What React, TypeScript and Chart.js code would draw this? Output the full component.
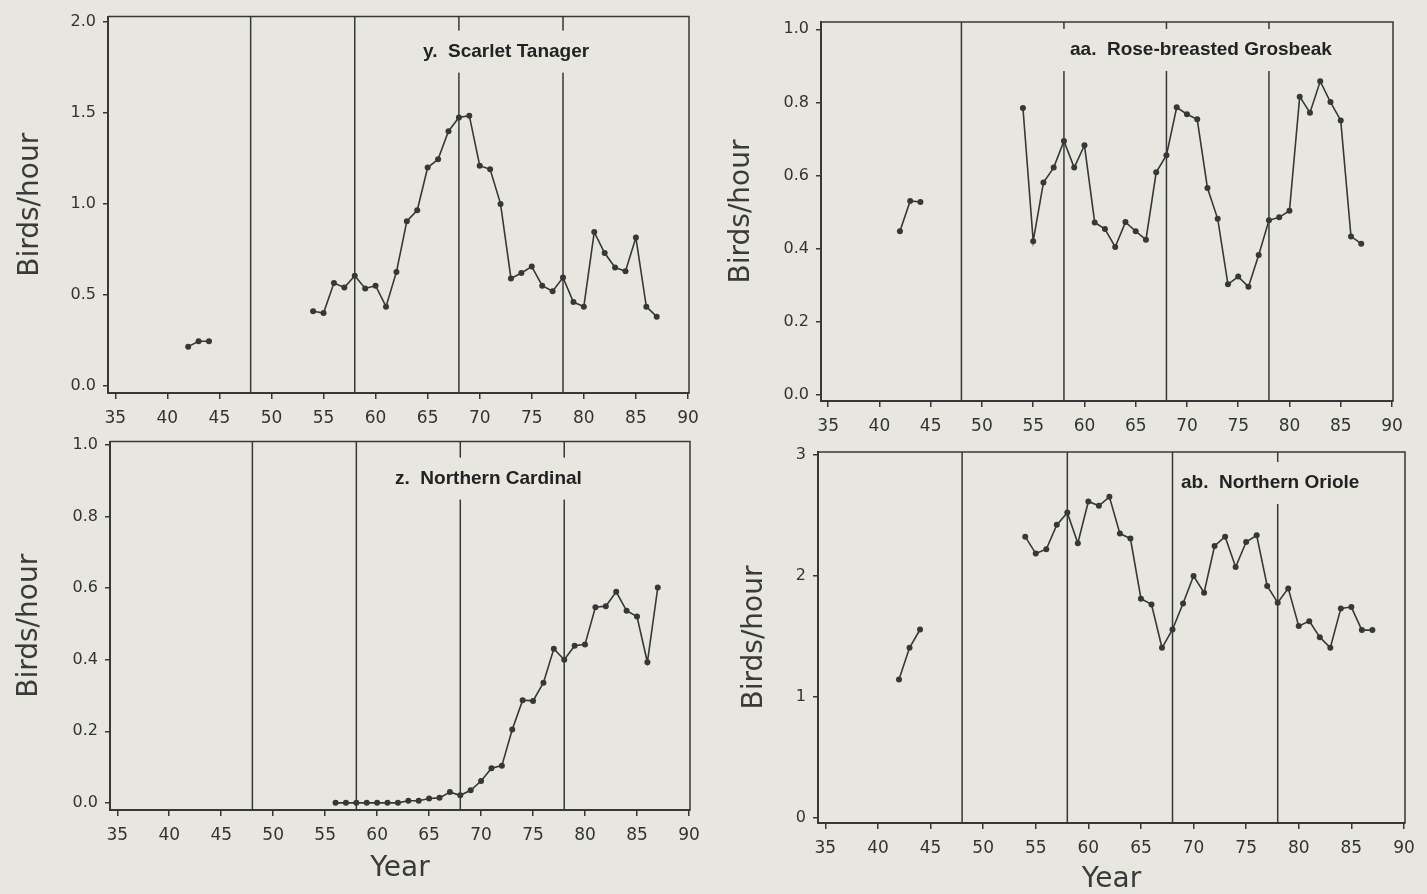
import React, { useEffect, useRef } from "react";
import { Chart, registerables } from "chart.js";

Chart.register(...registerables);

// ---------------- data ----------------
const YEARS = [
  42, 43, 44, 45, 46, 47, 48, 49, 50, 51, 52, 53, 54, 55, 56, 57, 58, 59, 60, 61, 62, 63, 64,
  65, 66, 67, 68, 69, 70, 71, 72, 73, 74, 75, 76, 77, 78, 79, 80, 81, 82, 83, 84, 85, 86, 87,
];

const SCARLET_TANAGER = [
  0.215, 0.245, 0.245, null, null, null, null, null, null, null, null, null,
  0.41, 0.4, 0.565, 0.54, 0.605, 0.535, 0.55, 0.435, 0.625, 0.905, 0.965,
  1.2, 1.245, 1.4, 1.475, 1.485, 1.21, 1.19, 1.0, 0.59, 0.62, 0.655, 0.55, 0.52,
  0.595, 0.46, 0.435, 0.845, 0.73, 0.65, 0.63, 0.815, 0.435, 0.38,
];

const ROSE_BREASTED_GROSBEAK = [
  0.448, 0.531, 0.528, null, null, null, null, null, null, null, null, null,
  0.785, 0.421, 0.581, 0.622, 0.695, 0.622, 0.683, 0.472, 0.454, 0.405, 0.473,
  0.448, 0.425, 0.609, 0.656, 0.787, 0.768, 0.754, 0.566, 0.482, 0.303, 0.324, 0.296, 0.383,
  0.478, 0.486, 0.504, 0.816, 0.772, 0.858, 0.801, 0.751, 0.434, 0.414,
];

const NORTHERN_CARDINAL = [
  null, null, null, null, null, null, null, null, null, null, null, null,
  null, null, 0.0, 0.0, 0.0, 0.0, 0.0, 0.0, 0.0, 0.006, 0.006,
  0.012, 0.014, 0.03, 0.021, 0.035, 0.061, 0.097, 0.104, 0.205, 0.287, 0.285, 0.336, 0.431,
  0.4, 0.439, 0.443, 0.547, 0.55, 0.59, 0.537, 0.521, 0.393, 0.602,
];

const NORTHERN_ORIOLE = [
  1.143, 1.405, 1.556, null, null, null, null, null, null, null, null, null,
  2.322, 2.182, 2.218, 2.419, 2.52, 2.267, 2.612, 2.576, 2.65, 2.347, 2.306,
  1.81, 1.763, 1.405, 1.556, 1.771, 1.997, 1.86, 2.245, 2.322, 2.072, 2.278, 2.333, 1.915,
  1.777, 1.895, 1.584, 1.625, 1.493, 1.405, 1.73, 1.741, 1.551, 1.551,
];

const PERIOD_YEARS = [48, 58, 68, 78];
const X_TICKS = [35, 40, 45, 50, 55, 60, 65, 70, 75, 80, 85, 90];
const Y_TICKS_TANAGER = [0, 0.5, 1.0, 1.5, 2.0];
const Y_TICKS_GROSBEAK = [0, 0.2, 0.4, 0.6, 0.8, 1.0];
const Y_TICKS_CARDINAL = [0, 0.2, 0.4, 0.6, 0.8, 1.0];
const Y_TICKS_ORIOLE = [0, 1, 2, 3];

const TITLE_TANAGER = "y.  Scarlet Tanager";
const TITLE_GROSBEAK = "aa.  Rose-breasted Grosbeak";
const TITLE_CARDINAL = "z.  Northern Cardinal";
const TITLE_ORIOLE = "ab.  Northern Oriole";
const Y_TITLE = "Birds/hour";
const X_TITLE = "Year";

// ---------------- styling / layout ----------------
const BG = "#e8e7df";
const INK = "#373737";
const TICK_FONT = '"DejaVu Sans", sans-serif';
const TITLE_FONT = '"Liberation Sans", Arial, sans-serif';

type PanelCfg = {
  box: { x: number; y: number; w: number; h: number };
  padTop: number;
  padRight: number;
  yWidth: number;
  xHeight: number;
  xMin: number;
  xMax: number;
  yMin: number;
  yMax: number;
  yTicks: number[];
  decimals: number;
  values: (number | null)[];
  title: string;
  titleDx: number;
  titleDy: number;
  maskL: number;
  maskR: number;
  yTitlePad: number;
  showXTitle: boolean;
  xTitlePad: number;
};

const PANELS: PanelCfg[] = [
  {
    box: { x: 0, y: 0, w: 710, h: 440 },
    padTop: 15, padRight: 21, yWidth: 108, xHeight: 47,
    xMin: 34.3, xMax: 90.1, yMin: -0.04, yMax: 2.03,
    yTicks: Y_TICKS_TANAGER, decimals: 1, values: SCARLET_TANAGER,
    title: TITLE_TANAGER, titleDx: 315, titleDy: 35, maskL: 13, maskR: 12,
    yTitlePad: 17, showXTitle: false, xTitlePad: 0,
  },
  {
    box: { x: 710, y: 0, w: 717, h: 440 },
    padTop: 22, padRight: 34, yWidth: 111, xHeight: 39,
    xMin: 34.3, xMax: 90.1, yMin: -0.016, yMax: 1.02,
    yTicks: Y_TICKS_GROSBEAK, decimals: 1, values: ROSE_BREASTED_GROSBEAK,
    title: TITLE_GROSBEAK, titleDx: 249, titleDy: 28, maskL: 12, maskR: 12,
    yTitlePad: 18, showXTitle: false, xTitlePad: 0,
  },
  {
    box: { x: 0, y: 425, w: 710, h: 469 },
    padTop: 16, padRight: 20, yWidth: 110, xHeight: 84,
    xMin: 34.3, xMax: 90.1, yMin: -0.02, yMax: 1.01,
    yTicks: Y_TICKS_CARDINAL, decimals: 1, values: NORTHERN_CARDINAL,
    title: TITLE_CARDINAL, titleDx: 285, titleDy: 37, maskL: 12, maskR: 12,
    yTitlePad: 16, showXTitle: true, xTitlePad: 11,
  },
  {
    box: { x: 710, y: 430, w: 717, h: 464 },
    padTop: 22, padRight: 22, yWidth: 108, xHeight: 71,
    xMin: 34.3, xMax: 90.1, yMin: -0.04, yMax: 3.02,
    yTicks: Y_TICKS_ORIOLE, decimals: 0, values: NORTHERN_ORIOLE,
    title: TITLE_ORIOLE, titleDx: 363, titleDy: 31, maskL: 5, maskR: 12,
    yTitlePad: 31, showXTitle: true, xTitlePad: 0,
  },
];

const framePlugin = {
  id: "frame",
  beforeDatasetsDraw(chart: any) {
    const { ctx, chartArea: a, scales } = chart;
    ctx.save();
    ctx.strokeStyle = INK;
    ctx.lineWidth = 1.5;
    for (const yr of PERIOD_YEARS) {
      const x = scales.x.getPixelForValue(yr);
      ctx.beginPath();
      ctx.moveTo(x, a.top);
      ctx.lineTo(x, a.bottom);
      ctx.stroke();
    }
    ctx.beginPath();
    ctx.moveTo(a.left, a.top);
    ctx.lineTo(a.right, a.top);
    ctx.lineTo(a.right, a.bottom);
    ctx.stroke();
    ctx.restore();
  },
  afterDatasetsDraw(chart: any, _args: any, opts: any) {
    const { ctx, chartArea: a } = chart;
    ctx.save();
    ctx.font = `bold 19px ${TITLE_FONT}`;
    const w = ctx.measureText(opts.text).width;
    const x = a.left + opts.dx;
    const y = a.top + opts.dy;
    ctx.fillStyle = BG;
    ctx.fillRect(x - opts.maskL, y - 21, w + opts.maskL + opts.maskR, 42);
    ctx.fillStyle = "#222";
    ctx.textBaseline = "middle";
    ctx.textAlign = "left";
    ctx.fillText(opts.text, x, y);
    ctx.restore();
  },
};

function buildConfig(p: PanelCfg): any {
  return {
    type: "line",
    data: {
      datasets: [
        {
          data: YEARS.map((yr, i) => ({ x: yr, y: p.values[i] })),
          borderColor: INK,
          borderWidth: 1.6,
          pointRadius: 3,
          pointBackgroundColor: INK,
          pointBorderColor: INK,
          pointBorderWidth: 0,
          tension: 0,
          spanGaps: false,
        },
      ],
    },
    options: {
      animation: false,
      responsive: false,
      maintainAspectRatio: false,
      events: [],
      layout: { padding: { left: 0, top: p.padTop, right: p.padRight, bottom: 0 } },
      plugins: {
        legend: { display: false },
        tooltip: { enabled: false },
        frame: {
          text: p.title,
          dx: p.titleDx,
          dy: p.titleDy,
          maskL: p.maskL,
          maskR: p.maskR,
        },
      },
      scales: {
        x: {
          type: "linear",
          min: p.xMin,
          max: p.xMax,
          afterBuildTicks: (s: any) => {
            s.ticks = X_TICKS.map((v) => ({ value: v }));
          },
          afterFit: (s: any) => {
            s.height = p.xHeight;
          },
          ticks: {
            autoSkip: false,
            maxRotation: 0,
            padding: 9,
            color: "#333",
            font: { family: TICK_FONT, size: 17 },
            callback: (v: any) => String(v),
          },
          grid: {
            drawOnChartArea: false,
            drawTicks: true,
            tickLength: 6,
            color: INK,
            lineWidth: 1.5,
          },
          border: { display: true, color: INK, width: 2 },
          title: {
            display: p.showXTitle,
            text: X_TITLE,
            color: "#3a3a3a",
            font: { family: TICK_FONT, size: 28, lineHeight: 1 },
            padding: { top: 0, bottom: p.xTitlePad },
          },
        },
        y: {
          type: "linear",
          min: p.yMin,
          max: p.yMax,
          afterBuildTicks: (s: any) => {
            s.ticks = p.yTicks.map((v) => ({ value: v }));
          },
          afterFit: (s: any) => {
            s.width = p.yWidth;
          },
          ticks: {
            autoSkip: false,
            padding: 7,
            color: "#333",
            font: { family: TICK_FONT, size: 16 },
            callback: (v: any) => Number(v).toFixed(p.decimals),
          },
          grid: {
            drawOnChartArea: false,
            drawTicks: true,
            tickLength: 5,
            color: INK,
            lineWidth: 1.5,
          },
          border: { display: true, color: INK, width: 2 },
          title: {
            display: true,
            text: Y_TITLE,
            color: "#3a3a3a",
            font: { family: TICK_FONT, size: 28, lineHeight: 1 },
            padding: { top: p.yTitlePad, bottom: 0 },
          },
        },
      },
    },
    plugins: [framePlugin],
  };
}

function Panel({ cfg }: { cfg: PanelCfg }) {
  const ref = useRef<HTMLCanvasElement>(null);
  useEffect(() => {
    if (!ref.current) return;
    const chart = new Chart(ref.current, buildConfig(cfg));
    return () => chart.destroy();
  }, [cfg]);
  return (
    <canvas
      ref={ref}
      width={cfg.box.w}
      height={cfg.box.h}
      style={{
        position: "absolute",
        left: cfg.box.x,
        top: cfg.box.y,
        width: cfg.box.w,
        height: cfg.box.h,
      }}
    />
  );
}

export default function App() {
  return (
    <div
      style={{
        position: "absolute",
        left: 0,
        top: 0,
        width: 1427,
        height: 894,
        background: BG,
        overflow: "hidden",
      }}
    >
      {PANELS.map((p, i) => (
        <Panel key={i} cfg={p} />
      ))}
    </div>
  );
}
